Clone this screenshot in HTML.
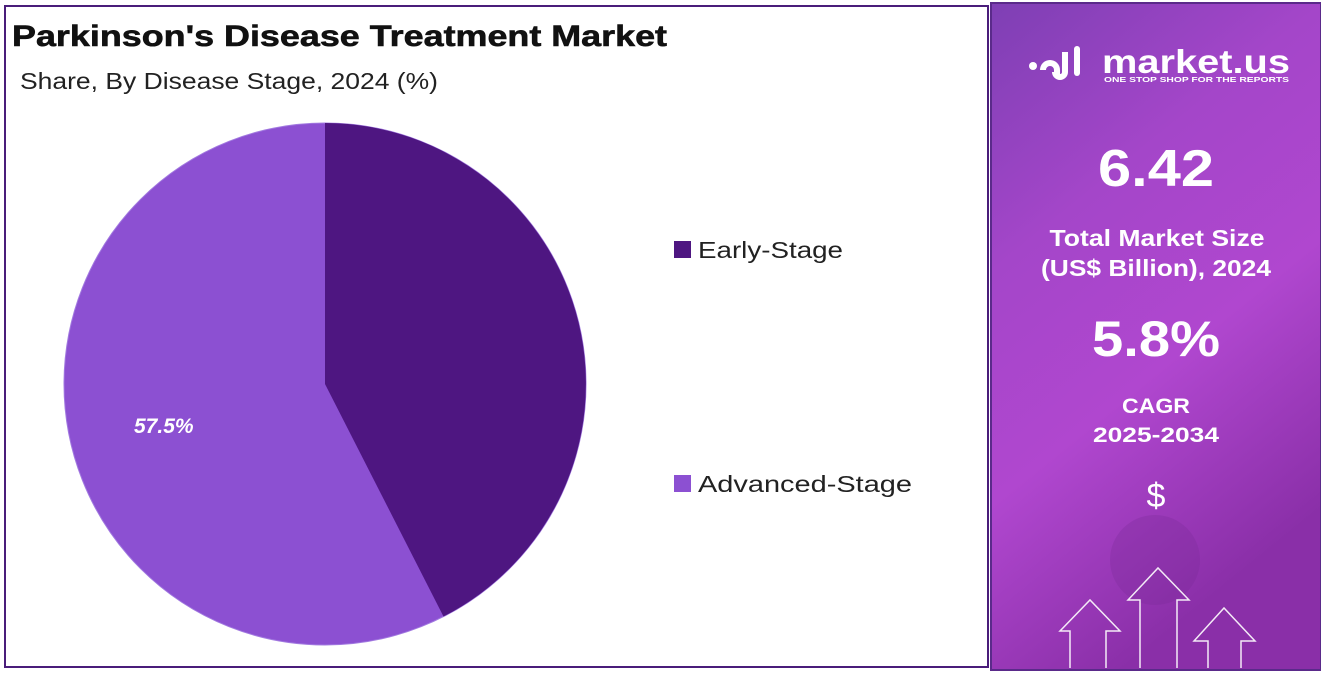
<!DOCTYPE html>
<html><head><meta charset="utf-8"><style>
html,body{margin:0;padding:0;background:#fff;width:1321px;height:673px;overflow:hidden}
svg{display:block}
text{font-family:"Liberation Sans",sans-serif}
</style></head><body>
<svg width="1321" height="673" viewBox="0 0 1321 673" xmlns="http://www.w3.org/2000/svg">
<defs>
<linearGradient id="bg" x1="0" y1="0" x2="0.4" y2="1">
<stop offset="0" stop-color="#7e3fb4"/>
<stop offset="0.35" stop-color="#a446c9"/>
<stop offset="0.65" stop-color="#b047cf"/>
<stop offset="1" stop-color="#8a2fa8"/>
</linearGradient>
</defs>
<rect x="0" y="0" width="1321" height="673" fill="#fff"/>
<rect x="5" y="6" width="983" height="661" fill="#fff" stroke="#4a1d7a" stroke-width="2"/>
<text x="12" y="46" font-size="30" font-weight="bold" fill="#111" stroke="#111" stroke-width="0.6" textLength="655" lengthAdjust="spacingAndGlyphs">Parkinson's Disease Treatment Market</text>
<text x="20" y="89" font-size="23" fill="#222" textLength="418" lengthAdjust="spacingAndGlyphs">Share, By Disease Stage, 2024 (%)</text>
<circle cx="325" cy="384" r="261" fill="#8c50d2" stroke="#a27ae0" stroke-width="1"/>
<path d="M325,384 L325,123 A261,261 0 0,1 443.5,616.5 Z" fill="#4e1681"/>
<text x="134" y="433" font-size="21" font-weight="bold" font-style="italic" fill="#fff">57.5%</text>
<rect x="674" y="241" width="17" height="17" fill="#4e1681"/>
<text x="698" y="258" font-size="23" fill="#222" textLength="145" lengthAdjust="spacingAndGlyphs">Early-Stage</text>
<rect x="674" y="475" width="17" height="17" fill="#8c50d2"/>
<text x="698" y="492" font-size="23" fill="#222" textLength="214" lengthAdjust="spacingAndGlyphs">Advanced-Stage</text>
<rect x="991" y="3" width="330" height="667" fill="url(#bg)" stroke="#5a2a8a" stroke-width="2"/>
<circle cx="1155" cy="560" r="45" fill="#7a2a98" opacity="0.3"/>
<g fill="#fff">
<circle cx="1033" cy="66" r="4"/>
<path d="M1040,70 a10,10 0 0 1 20,0 v6 h-6 v-6 a4,4 0 0 0 -8,0 z"/>
<path d="M1062,52 h6 v20 a8,8 0 0 1 -16,0 h6 a2,2 0 0 0 4,0z"/>
<rect x="1074" y="46" width="6" height="30" rx="3"/>
<text x="1102" y="73" font-size="33" font-weight="bold" textLength="188" lengthAdjust="spacingAndGlyphs">market.us</text>
<text x="1104" y="82" font-size="7.5" font-weight="bold" textLength="185" lengthAdjust="spacingAndGlyphs">ONE STOP SHOP FOR THE REPORTS</text>
<text x="1156" y="186" font-size="52" font-weight="bold" text-anchor="middle" textLength="116" lengthAdjust="spacingAndGlyphs">6.42</text>
<text x="1157" y="246" font-size="23" font-weight="bold" text-anchor="middle" textLength="215" lengthAdjust="spacingAndGlyphs">Total Market Size</text>
<text x="1156" y="276" font-size="23" font-weight="bold" text-anchor="middle" textLength="230" lengthAdjust="spacingAndGlyphs">(US$ Billion), 2024</text>
<text x="1156" y="356" font-size="50" font-weight="bold" text-anchor="middle" textLength="128" lengthAdjust="spacingAndGlyphs">5.8%</text>
<text x="1156" y="413" font-size="21" font-weight="bold" text-anchor="middle" textLength="68" lengthAdjust="spacingAndGlyphs">CAGR</text>
<text x="1156" y="442" font-size="21" font-weight="bold" text-anchor="middle" textLength="126" lengthAdjust="spacingAndGlyphs">2025-2034</text>
<text x="1156" y="507" font-size="34" text-anchor="middle">$</text>
</g>
<g fill="none" stroke="#fff" stroke-width="1.5" opacity="0.9">
<path d="M1070,668 V631 H1060 L1090,600 L1120,631 H1106 V668"/>
<path d="M1140,668 V600 H1128 L1158,568 L1189,600 H1177 V668"/>
<path d="M1208,668 V641 H1194 L1224,608 L1255,641 H1241 V668"/>
</g>
</svg>
</body></html>
